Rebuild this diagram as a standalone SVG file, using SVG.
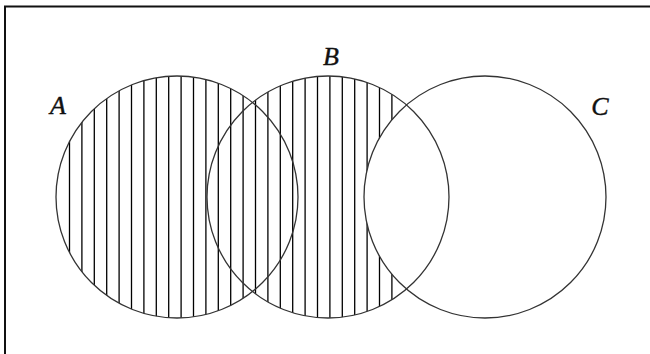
<svg xmlns="http://www.w3.org/2000/svg" width="650" height="354" viewBox="0 0 650 354">
<style>
.set{fill:none;stroke:#333;stroke-width:1.3}
.lbl{font-family:"Liberation Serif",serif;font-style:italic;font-size:26px;fill:#111;stroke:#111;stroke-width:0.4;text-anchor:middle}
.hatch line{stroke:#000;stroke-width:1.3}
</style>
<defs>
<clipPath id="ab"><circle cx="177" cy="197" r="121"/><circle cx="328" cy="197" r="121"/></clipPath>
<mask id="notc"><rect x="0" y="0" width="650" height="354" fill="#fff"/><circle cx="485" cy="197" r="121" fill="#000"/></mask>
</defs>
<rect width="650" height="354" fill="#fff"/>
<polyline points="5,354 5,6.5 650,6.5" fill="none" stroke="#111" stroke-width="2"/>
<g id="hatching" class="hatch" clip-path="url(#ab)" mask="url(#notc)">
<line x1="69.5" y1="70" x2="69.5" y2="330"/>
<line x1="81.9" y1="70" x2="81.9" y2="330"/>
<line x1="94.3" y1="70" x2="94.3" y2="330"/>
<line x1="106.7" y1="70" x2="106.7" y2="330"/>
<line x1="119.1" y1="70" x2="119.1" y2="330"/>
<line x1="131.5" y1="70" x2="131.5" y2="330"/>
<line x1="143.9" y1="70" x2="143.9" y2="330"/>
<line x1="156.3" y1="70" x2="156.3" y2="330"/>
<line x1="168.7" y1="70" x2="168.7" y2="330"/>
<line x1="181.1" y1="70" x2="181.1" y2="330"/>
<line x1="193.5" y1="70" x2="193.5" y2="330"/>
<line x1="205.9" y1="70" x2="205.9" y2="330"/>
<line x1="218.3" y1="70" x2="218.3" y2="330"/>
<line x1="230.7" y1="70" x2="230.7" y2="330"/>
<line x1="243.1" y1="70" x2="243.1" y2="330"/>
<line x1="255.5" y1="70" x2="255.5" y2="330"/>
<line x1="267.9" y1="70" x2="267.9" y2="330"/>
<line x1="280.3" y1="70" x2="280.3" y2="330"/>
<line x1="292.7" y1="70" x2="292.7" y2="330"/>
<line x1="305.1" y1="70" x2="305.1" y2="330"/>
<line x1="317.5" y1="70" x2="317.5" y2="330"/>
<line x1="329.9" y1="70" x2="329.9" y2="330"/>
<line x1="342.3" y1="70" x2="342.3" y2="330"/>
<line x1="354.7" y1="70" x2="354.7" y2="330"/>
<line x1="367.1" y1="70" x2="367.1" y2="330"/>
<line x1="379.5" y1="70" x2="379.5" y2="330"/>
<line x1="391.9" y1="70" x2="391.9" y2="330"/>
</g>
<g id="A"><circle class="set" cx="177" cy="197" r="121"/><text class="lbl" x="58" y="114">A</text></g>
<g id="B"><circle class="set" cx="328" cy="197" r="121"/><text class="lbl" x="331" y="65">B</text></g>
<g id="C"><circle class="set" cx="485" cy="197" r="121"/><text class="lbl" x="600" y="115">C</text></g>
</svg>
